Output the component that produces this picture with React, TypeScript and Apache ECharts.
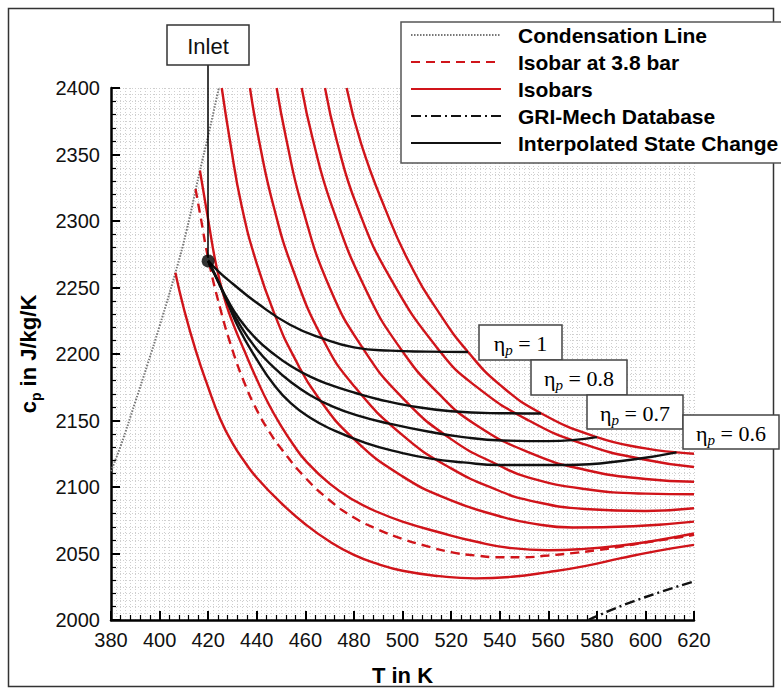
import React, { useEffect, useRef } from "react";
import * as echarts from "echarts";

// ---------- data (T in K, cp in J/kg/K) ----------
const condensationLine = [[380,2112],[384,2131],[390,2164],[395,2192],[400,2221],[406.5,2261],[411,2292],[416.5,2337],[420,2364],[424.5,2401]];
const isobar38 = [[414.8,2324],[417,2302],[420,2272],[425,2234],[430,2203],[435,2178],[440,2158],[445,2142],[450,2129],[460,2107],[470,2090],[480,2077],[490,2068],[500,2061],[510,2055.5],[520,2051],[530,2048.5],[540,2047.2],[550,2047.2],[560,2048.5],[570,2050.3],[580,2052.5],[590,2055.2],[600,2058.3],[610,2061],[620,2064]];
const isobarA = [[406.5,2261],[410,2234],[415,2202],[420,2175],[425,2151],[430,2133],[435,2119],[440,2107],[450,2088],[460,2072],[470,2059],[480,2049],[490,2042],[500,2037],[515,2033],[530,2031.3],[545,2032.5],[560,2036],[575,2040.5],[590,2046.5],[605,2052],[620,2056.5]];
const isobarB = [[416.6,2338],[420,2301],[423.5,2265],[427,2240],[430,2224],[435,2202],[440,2181],[445,2162],[450,2146],[455,2132],[460,2120],[470,2102.5],[480,2090],[490,2081],[500,2074],[515,2066],[530,2059],[545,2054],[560,2052.5],[575,2053.5],[590,2056],[605,2060],[620,2065]];
const isobarC = [[425.6,2400],[429,2360],[433.7,2312],[440,2268],[448.2,2226],[455,2199],[465,2168],[480,2136],[500,2108],[520,2090],[540,2078],[552,2073],[570,2069.5],[595,2070.5],[620,2074]];
const isobarD = [[437.2,2400],[441,2360],[446.8,2312],[455,2263],[467.4,2210.5],[480,2176],[500,2139],[520,2114],[540,2097],[552,2090],[575,2083.5],[600,2082],[620,2084]];
const isobarE = [[448.2,2400],[452,2363],[458.5,2312],[470,2250],[483.8,2204],[500,2167],[520,2136],[540,2116],[552,2107],[575,2098.5],[600,2095],[620,2094.5]];
const isobarF = [[458.5,2400],[463,2362],[470.8,2312],[485,2248],[499.6,2203],[515,2170],[530,2147],[552,2126],[575,2113],[600,2106],[620,2104]];
const isobarG = [[468.1,2400],[473,2360],[481.1,2312],[495,2257],[515.4,2202],[530,2176],[552,2150],[575,2132],[600,2120.5],[620,2115]];
const isobarH = [[477,2400],[483,2358],[492.8,2309.5],[503,2268],[515.4,2230],[527,2201.5],[540,2177],[557,2155.5],[580,2137.5],[600,2129],[613,2126],[620,2125]];
const griMech = [[576.5,2000],[595,2014],[620,2029]];
const eta100 = [[420,2270],[424.3,2262],[430,2253],[440,2238.5],[453.7,2222],[467.4,2211.5],[480,2205],[495,2202.5],[510,2201.8],[527,2201.5]];
const eta080 = [[420,2270],[424,2255],[427.6,2242],[433,2226],[440,2211],[447,2200],[454,2191],[462,2183],[470,2177],[481,2170.5],[490,2166],[503,2161],[520,2157],[540,2155.5],[557,2155.3]];
const eta070 = [[420,2270],[424,2255],[427.6,2241],[433,2222],[440,2203.5],[447,2190],[454,2179],[462,2169],[470,2161.5],[481,2154],[495,2147.5],[511,2141.5],[525,2137.5],[541,2135],[560,2134.5],[580,2137.5]];
const eta060 = [[420,2270],[424,2255],[427.6,2240],[433,2218],[440,2196],[447,2177],[454,2163],[462,2152],[470,2144],[485,2133],[500,2125.5],[511,2121.5],[525,2118.5],[540,2116.5],[567.5,2116.5],[594,2120.5],[612.8,2126]];
const inletPoint = [[420,2270]];
const etaLabels = ["1", "0.8", "0.7", "0.6"];
const xTicks = { min: 380, max: 620, step: 20 };
const yTicks = { min: 2000, max: 2400, step: 50 };

const RED = "#d0141a";
const SANS = "'Liberation Sans', Arial, Helvetica, sans-serif";
const SERIF = "'Liberation Serif', 'DejaVu Serif', 'Times New Roman', serif";

export default function App() {
  const ref = useRef<HTMLDivElement>(null);
  useEffect(() => {
    if (!ref.current) return;
    const chart = echarts.init(ref.current, null, { renderer: "svg" });
    const line = (name: string, data: number[][], color: string, width: number, type: any, z = 2) => ({
      name, type: "line", data, symbol: "none", smooth: 0.5, z,
      lineStyle: { color, width, type }, itemStyle: { color }, emphasis: { disabled: true }, silent: true,
    });
    const isobars = [isobarA, isobarB, isobarC, isobarD, isobarE, isobarF, isobarG, isobarH];
    const etas = [eta100, eta080, eta070, eta060];
    const boxes = [
      { x: 479, y: 325, w: 83, h: 35 },
      { x: 531, y: 360, w: 96, h: 35 },
      { x: 587, y: 395, w: 96, h: 34 },
      { x: 683, y: 415, w: 96, h: 34 },
    ];
    const etaGraphics: any[] = [];
    boxes.forEach((b, i) => {
      etaGraphics.push({ type: "rect", shape: { x: b.x, y: b.y, width: b.w, height: b.h }, style: { fill: "#fff", stroke: "#444", lineWidth: 1.5 }, z: 100 });
      etaGraphics.push({
        type: "text", x: b.x + b.w / 2, y: b.y + b.h / 2 + 1, z: 101,
        style: {
          text: `{e|η}{s|p}{e| = ${etaLabels[i]}}`, align: "center", verticalAlign: "middle",
          rich: {
            e: { fontFamily: SERIF, fontSize: 22, color: "#111", lineHeight: 28 },
            s: { fontFamily: SERIF, fontSize: 15, fontStyle: "italic", color: "#111", lineHeight: 28, verticalAlign: "bottom" },
          },
        },
      });
    });
    chart.setOption({
      animation: false,
      backgroundColor: "#fff",
      grid: { left: 111, right: 87, top: 88, bottom: 78, containLabel: false },
      legend: {
        data: ["Condensation Line", "Isobar at 3.8 bar", "Isobars", "GRI-Mech Database", "Interpolated State Change"],
        orient: "vertical", left: 401, top: 22, itemWidth: 90, itemHeight: 14, itemGap: 5,
        padding: [2, 4, 9, 9], backgroundColor: "#fff", borderColor: "#555", borderWidth: 1.5,
        selectedMode: false, z: 50,
        itemStyle: { opacity: 0 },
        textStyle: { fontFamily: SANS, fontSize: 21, fontWeight: "bold", color: "#000", lineHeight: 22, padding: [0, 0, 0, 12] },
      },
      xAxis: [
        {
          type: "value", min: xTicks.min, max: xTicks.max, interval: xTicks.step,
          name: "T in K", nameLocation: "middle", nameGap: 44,
          nameTextStyle: { fontFamily: SANS, fontSize: 22, fontWeight: "bold", color: "#000" },
          axisLine: { onZero: false, lineStyle: { color: "#000", width: 2.5 } },
          axisTick: { inside: true, length: 9, lineStyle: { color: "#000", width: 2 } },
          minorTick: { show: true, splitNumber: 5, length: 5, lineStyle: { color: "#000", width: 1.2 } },
          axisLabel: { fontFamily: SANS, fontSize: 20, color: "#111", margin: 10 },
          splitLine: { show: false },
        },
        {
          type: "value", min: xTicks.min, max: xTicks.max, interval: 2, position: "top",
          axisLine: { show: false }, axisTick: { show: false }, axisLabel: { show: false },
          splitLine: { show: true, lineStyle: { color: "#cfcfcf", width: 1, type: [1, 2] } },
        },
      ],
      yAxis: [
        {
          type: "value", min: yTicks.min, max: yTicks.max, interval: yTicks.step,
          name: "{a|c}{b|p}{a| in J/kg/K}", nameLocation: "middle", nameGap: 68, nameRotate: 90,
          nameTextStyle: {
            fontFamily: SANS, fontSize: 22, fontWeight: "bold", color: "#000",
            rich: {
              a: { fontFamily: SANS, fontSize: 22, fontWeight: "bold", color: "#000", lineHeight: 30 },
              b: { fontFamily: SANS, fontSize: 14, fontWeight: "bold", color: "#000", lineHeight: 30, verticalAlign: "bottom" },
            },
          },
          axisLine: { onZero: false, lineStyle: { color: "#000", width: 2.5 } },
          axisTick: { inside: true, length: 9, lineStyle: { color: "#000", width: 2 } },
          minorTick: { show: true, splitNumber: 5, length: 5, lineStyle: { color: "#000", width: 1.2 } },
          axisLabel: { fontFamily: SANS, fontSize: 20, color: "#111", margin: 11, formatter: (v: number) => String(v) },
          splitLine: { show: false },
        },
        {
          type: "value", min: yTicks.min, max: yTicks.max, interval: 5, position: "right",
          axisLine: { show: false }, axisTick: { show: false }, axisLabel: { show: false },
          splitLine: { show: true, lineStyle: { color: "#cfcfcf", width: 1, type: [1, 2] } },
        },
      ],
      series: [
        line("Condensation Line", condensationLine, "#777", 2, [1.5, 1.5], 3),
        ...isobars.map((d) => line("Isobars", d, RED, 2.4, "solid", 4)),
        line("Isobar at 3.8 bar", isobar38, RED, 2.4, [9, 6], 5),
        line("GRI-Mech Database", griMech, "#111", 2.4, [10, 4, 2, 4], 5),
        ...etas.map((d) => line("Interpolated State Change", d, "#111", 2.4, "solid", 6)),
        {
          name: "Inlet", type: "scatter", data: inletPoint, symbolSize: 13, z: 8, silent: true,
          itemStyle: { color: "#000" },
        },
      ],
      graphic: [
        { type: "rect", shape: { x: 8.5, y: 8.5, width: 765, height: 678 }, style: { fill: "none", stroke: "#333", lineWidth: 1.5 }, z: 0, silent: true },
        { type: "line", shape: { x1: 208, y1: 65, x2: 208, y2: 258 }, style: { stroke: "#000", lineWidth: 1.5 }, z: 90 },
        { type: "rect", shape: { x: 167, y: 25, width: 82, height: 40 }, style: { fill: "#fff", stroke: "#333", lineWidth: 1.5 }, z: 100 },
        { type: "text", x: 208, y: 46, z: 101, style: { text: "Inlet", fontFamily: SANS, fontSize: 22, fill: "#111", align: "center", verticalAlign: "middle" } },
        ...etaGraphics,
      ],
    });
    return () => chart.dispose();
  }, []);
  return <div ref={ref} style={{ position: "absolute", left: 0, top: 0, width: 781, height: 698 }} />;
}
